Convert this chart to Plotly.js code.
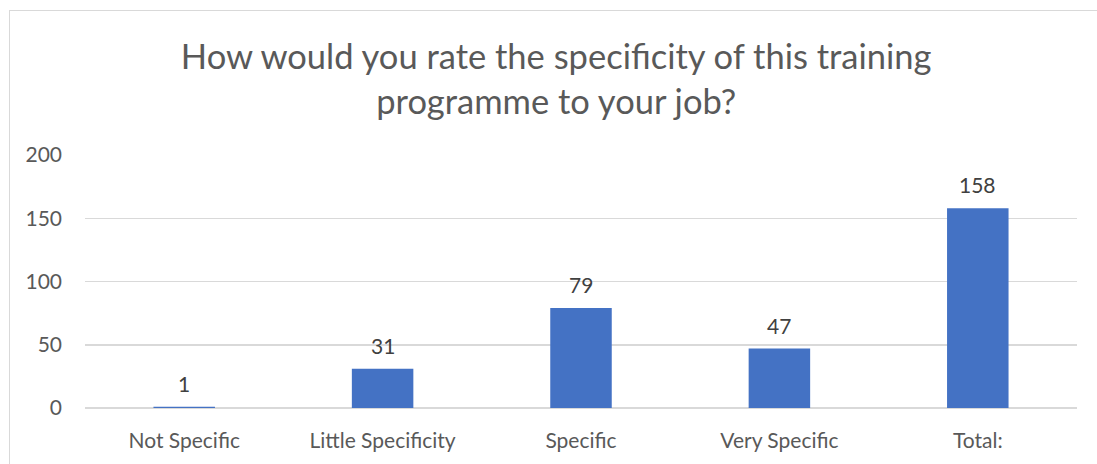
<!DOCTYPE html>
<html>
<head>
<meta charset="utf-8">
<script src="https://cdn.plot.ly/plotly-3.0.1.min.js"></script>
<style>
html,body{margin:0;padding:0;background:#fff;overflow:hidden;}
#wrap{position:relative;width:1097px;height:464px;}
#chart{position:absolute;left:0;top:0;width:1097px;height:464px;}
#frame{position:absolute;left:9px;top:10px;width:1200px;height:600px;border:1px solid #d9d9d9;pointer-events:none;box-sizing:border-box;}
</style>
</head>
<body>
<div id="wrap"><div id="chart"></div><div id="frame"></div></div>
<script>
const categories = ["Not Specific", "Little Specificity", "Specific", "Very Specific", "Total:"];
const values = [1, 31, 79, 47, 158];
const tickVals = [0, 50, 100, 150, 200];
const titleText = "How would you rate the specificity of this training<br>programme to your job?";

const font = "Lato, 'Open Sans', sans-serif";

const trace = {
  type: "bar",
  x: categories,
  y: values,
  marker: {color: "#4472c4"},
  hoverinfo: "none"
};

const annotations = categories.map((c, i) => ({
  x: c, y: values[i], xref: "x", yref: "y",
  text: String(values[i]), showarrow: false,
  yanchor: "bottom", yshift: 9,
  font: {family: font, size: 21, color: "#404040"}
}));

const layout = {
  width: 1097, height: 464,
  margin: {l: 85, r: 20, t: 155, b: 56},
  paper_bgcolor: "#ffffff", plot_bgcolor: "#ffffff",
  title: {
    text: titleText,
    font: {family: font, size: 34.5, color: "#595959"},
    x: 0.507, xref: "container", xanchor: "center",
    y: 0.852, yref: "container", yanchor: "middle"
  },
  bargap: 0.69,
  showlegend: false,
  xaxis: {
    type: "category",
    showgrid: false, zeroline: false, showline: false,
    ticks: "", ticklabelstandoff: 18,
    tickfont: {family: font, size: 21, color: "#595959"}
  },
  yaxis: {
    range: [0, 200], tickvals: tickVals,
    showgrid: true, gridcolor: "#d9d9d9", gridwidth: 1.5,
    zeroline: true, zerolinecolor: "#d9d9d9", zerolinewidth: 1.5,
    showline: false, ticks: "", ticklabelstandoff: 22,
    tickfont: {family: font, size: 21, color: "#595959"}
  },
  annotations: annotations
};

Plotly.newPlot("chart", [trace], layout, {displayModeBar: false, staticPlot: true});
</script>
</body>
</html>
